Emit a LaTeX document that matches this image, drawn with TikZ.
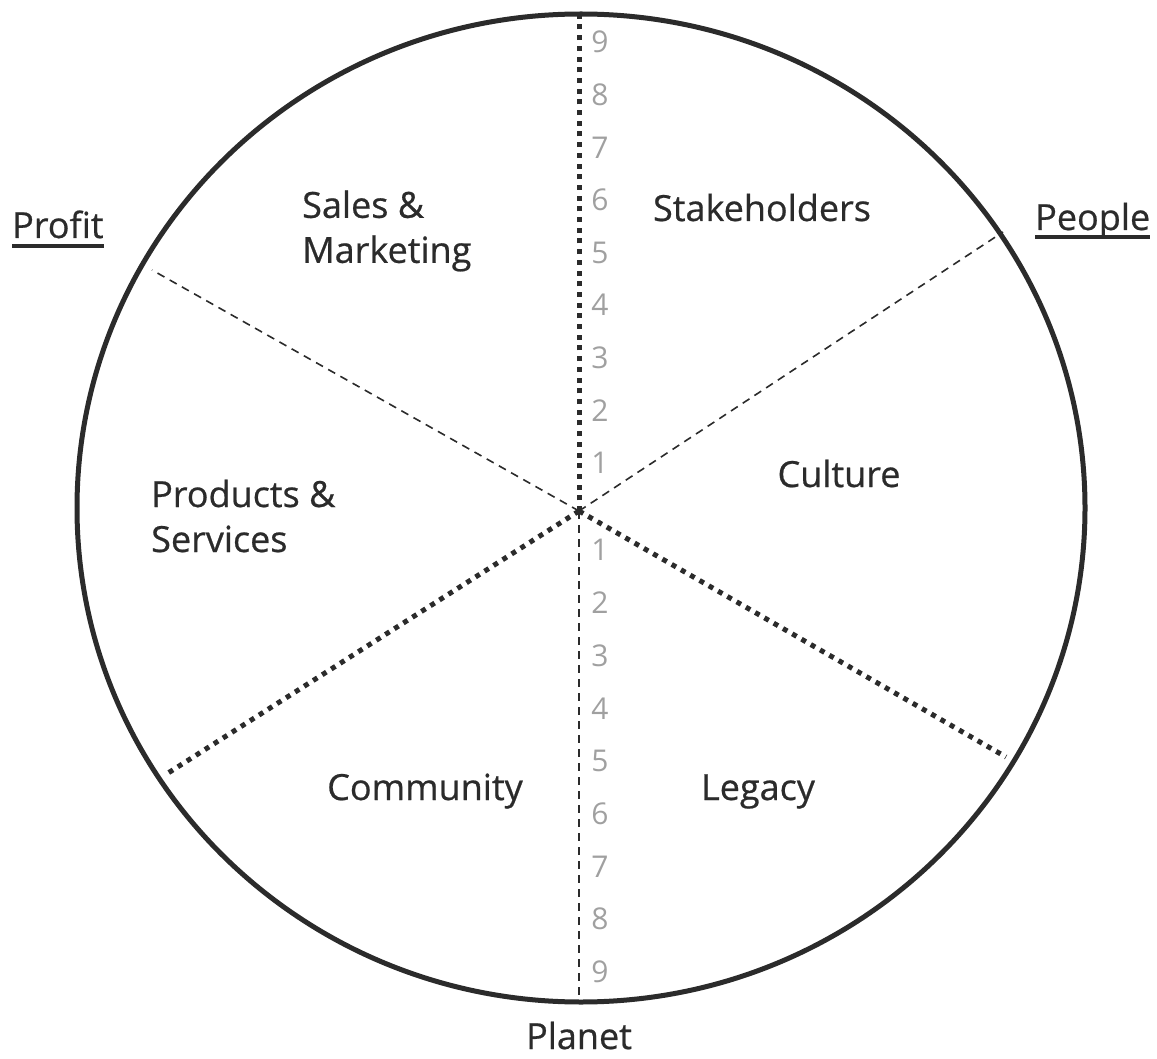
\documentclass[tikz,border=0pt]{standalone}
\usepackage{fontspec}
\setmainfont{Open Sans}
\newfontfamily\labelface{Open Sans}[FakeBold=0.6]
\definecolor{inkc}{HTML}{2B2B2B}
\definecolor{tickc}{HTML}{A0A0A0}
\begin{document}
\begin{tikzpicture}[x=1pt,y=-1pt,
  rim/.style={draw=inkc,line width=5pt},
  thinrule/.style={draw=inkc,line width=1.6pt,dash pattern=on 8pt off 6pt},
  heavydots/.style={draw=inkc,line width=5pt,dash pattern=on 5pt off 5.7pt},
  sector/.style={text=inkc,font=\labelface\fontsize{36}{45}\selectfont,inner sep=0pt,align=left},
  pillar/.style={text=inkc,font=\labelface\fontsize{36}{45}\selectfont,inner sep=0pt},
  tick/.style={text=tickc,font=\fontsize{30}{36}\selectfont,inner sep=0pt},
  underbar/.style={draw=inkc,line width=3.4pt},
]
\useasboundingbox (0,0) rectangle (1157,1059);

% outer wheel
\draw[rim] (581,508) ellipse [x radius=504pt, y radius=494pt];

% hub and spoke ends
\coordinate (hub) at (579,511);
\coordinate (topend) at (579,14);
\coordinate (botend) at (579,1002);
\coordinate (ulend) at (152,270);
\coordinate (urend) at (1003,232);
\coordinate (llend) at (165,775);
\coordinate (lrend) at (1006,757);

% spokes
\draw[heavydots] (hub) -- (topend);
\draw[heavydots] (hub) -- (llend);
\draw[heavydots] (hub) -- (lrend);
\draw[thinrule] (hub) -- (botend);
\draw[thinrule] (hub) -- (ulend);
\draw[thinrule] (hub) -- (urend);

% scale numbers along the vertical axis
\foreach \n in {1,...,9} {
  \node[tick] (up\n) at (600,{463-52.6*(\n-1)}) {\n};
  \node[tick] (dn\n) at (600,{550+52.75*(\n-1)}) {\n};
}

% sector labels
\node[sector,anchor=west] (sales) at (302,231) {Sales \&\\Marketing};
\node[sector,anchor=west] (products) at (151,516) {Products \&\\Services};
\node[pillar,anchor=base] (stake) at (762,221) {Stakeholders};
\node[pillar,anchor=base] (culture) at (839,487) {Culture};
\node[pillar,anchor=base] (community) at (425,800) {Community};
\node[pillar,anchor=base] (legacy) at (758,800) {Legacy};

% outer headings
\node[pillar,anchor=base west] (profit) at (12,238) {Profit};
\draw[underbar] ([yshift=-8pt]profit.base west) -- ([yshift=-8pt]profit.base east);
\node[pillar,anchor=base west] (people) at (1035,230) {People};
\draw[underbar] ([yshift=-7pt]people.base west) -- ([yshift=-7pt]people.base east);
\node[pillar,anchor=base] (planet) at (579,1049) {Planet};
\end{tikzpicture}
\end{document}
